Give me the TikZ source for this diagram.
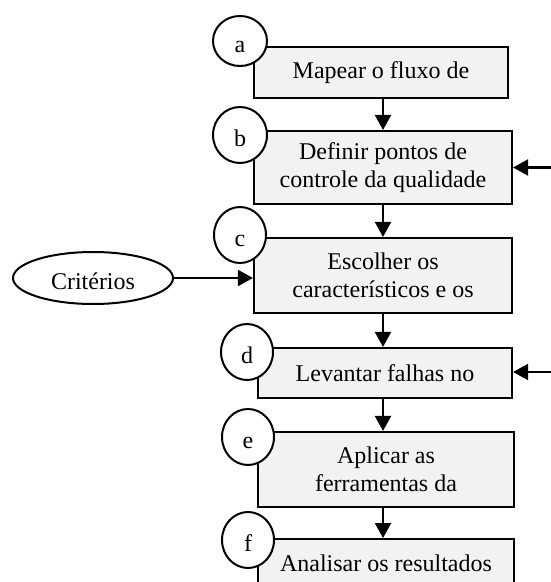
\documentclass[tikz,border=0pt]{standalone}
\usepackage{fontspec}
\setmainfont{Liberation Serif}
\usetikzlibrary{shapes.geometric,arrows.meta}
\definecolor{boxfill}{RGB}{242,242,242}
\begin{document}
\begin{tikzpicture}[x=1pt,y=-1pt,
  stepbox/.style={draw, line width=2.1pt, fill=boxfill, inner sep=0pt, align=center,
    font=\fontsize{24}{28.5}\selectfont},
  tag/.style={ellipse, draw, line width=2pt, fill=white, inner sep=0pt,
    text height=22pt, text depth=0pt, font=\fontsize{24}{28}\selectfont},
  arr/.style={line width=2.2pt, -{Triangle[length=15pt,width=16pt]}}]
\useasboundingbox (0,0) rectangle (551,582);
\clip (0,0) rectangle (551,582);
% boxes
\node[stepbox, minimum width=254pt, minimum height=51pt] (a) at (381,72.5) {Mapear o fluxo de};
\node[stepbox, minimum width=258pt, minimum height=73pt] (b) at (383,167.5) {Definir pontos de\\controle da qualidade};
\node[stepbox, minimum width=258pt, minimum height=75pt] (c) at (383,275.5) {Escolher os\\característicos e os};
\node[stepbox, minimum width=254pt, minimum height=50pt] (d) at (385,373) {Levantar falhas no};
\node[stepbox, minimum width=256pt, minimum height=75pt] (e) at (386,469.5) {Aplicar as\\ferramentas da};
\node[stepbox, minimum width=256pt, text height=32pt, text depth=30pt, anchor=north] (f) at (386,538) {Analisar os resultados};
% side input
\node[tag, minimum width=160pt, minimum height=52pt] (crit) at (93,278) {Critérios};
\coordinate (inb) at (551,167.5);
\coordinate (ind) at (551,372);
% arrows
\draw[arr] (a.south -| b.north) -- (b.north);
\draw[arr] (b.south) -- (c.north);
\draw[arr] (c.south) -- (d.north -| c.south);
\draw[arr] (d.south -| c.south) -- (e.north -| c.south);
\draw[arr] (e.south -| c.south) -- (f.north -| c.south);
\draw[arr] (inb) -- (b.east);
\draw[arr] (ind) -- (ind -| d.east);
\draw[arr] (crit.east) -- (crit.east -| c.west);
% step tags
\node[tag, minimum width=54pt, minimum height=50pt] (ta) at (240,41) {a};
\node[tag, minimum width=54pt, minimum height=56pt] (tb) at (240,135) {b};
\node[tag, minimum width=52pt, minimum height=56pt] (tc) at (240,235) {c};
\node[tag, minimum width=52pt, minimum height=56pt] (td) at (247,352) {d};
\node[tag, minimum width=52pt, minimum height=56pt] (te) at (248,437) {e};
\node[tag, minimum width=52pt, minimum height=56pt] (tf) at (248,540) {f};
\end{tikzpicture}
\end{document}
